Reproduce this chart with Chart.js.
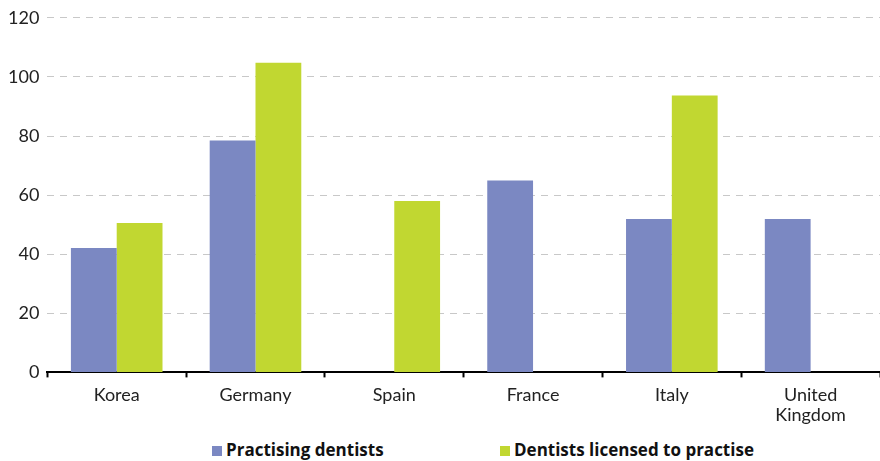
<!DOCTYPE html>
<html>
<head>
<meta charset="utf-8">
<script src="https://cdn.jsdelivr.net/npm/chart.js@4"></script>
<style>
  body { margin: 0; background: #fff; }
  #wrap { position: relative; width: 880px; height: 461px; }
  #legend { position: absolute; left: 212px; top: 438px; font: bold 17px "Open Sans", sans-serif; color: #111; white-space: nowrap; }
  #legend span.item { display: inline-block; }
  #legend span.item:first-child { width: 288px; }
  #legend span.box { display: inline-block; width: 10px; height: 10px; margin-right: 4px; }
</style>
</head>
<body>
<div id="wrap">
  <canvas id="chart" width="880" height="433"></canvas>
  <div id="legend"></div>
</div>
<script>
const countries = ["Korea", "Germany", "Spain", "France", "Italy", ["United", "Kingdom"]];
const practising = [42.1, 78.5, null, 65.0, 51.9, 51.9];
const licensed = [50.6, 104.8, 58.0, null, 93.7, null];
const yTicks = [0, 20, 40, 60, 80, 100, 120];

const seriesList = [
  { label: "Practising dentists", data: practising, color: "#7b88c2" },
  { label: "Dentists licensed to practise", data: licensed, color: "#c1d731" },
];

// legend built by hand so the spacing matches
const legend = document.getElementById("legend");
for (const s of seriesList) {
  const item = document.createElement("span");
  item.className = "item";
  const box = document.createElement("span");
  box.className = "box";
  box.style.background = s.color;
  item.appendChild(box);
  item.appendChild(document.createTextNode(s.label));
  legend.appendChild(item);
}

const tickFont = { family: "Lato", size: 18, lineHeight: 1.1 };
const ctx = document.getElementById("chart").getContext("2d");
new Chart(ctx, {
  type: "bar",
  data: {
    labels: countries,
    datasets: seriesList.map((s) => ({
      label: s.label,
      data: s.data,
      backgroundColor: s.color,
      barPercentage: 1,
      categoryPercentage: 0.66,
    })),
  },
  options: {
    responsive: false,
    animation: false,
    layout: { padding: { left: 0, right: 0, top: 3, bottom: 0 } },
    plugins: { legend: { display: false }, tooltip: { enabled: false } },
    scales: {
      x: {
        offset: true,
        grid: { offset: true, drawOnChartArea: false, color: "#000", tickLength: 5, tickWidth: 2 },
        border: { color: "#000", width: 2 },
        ticks: { color: "#222", font: tickFont, padding: 8 },
      },
      y: {
        min: 0,
        max: 120,
        afterBuildTicks: (axis) => { axis.ticks = yTicks.map((v) => ({ value: v })); },
        grid: { color: "#c8c8c8", lineWidth: 1, drawTicks: false },
        border: { display: false, dash: [7, 6] },
        ticks: { color: "#222", font: tickFont, padding: 8 },
      },
    },
  },
});
</script>
</body>
</html>
